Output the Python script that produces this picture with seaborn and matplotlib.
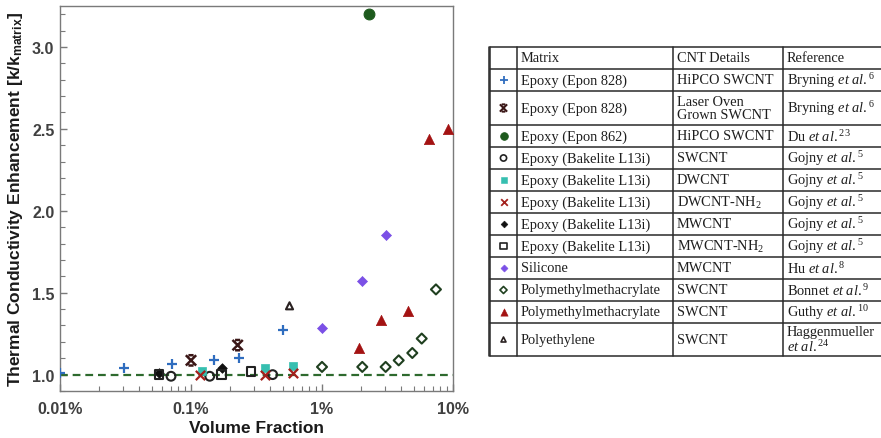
import numpy as np
import pandas as pd
import matplotlib
matplotlib.use("Agg")
import matplotlib.pyplot as plt
from matplotlib.path import Path
from matplotlib.ticker import FixedLocator, FixedFormatter, MultipleLocator, LogLocator, NullFormatter
import seaborn as sns

# ---- data: CNT volume fraction (%) vs. k / k_matrix ----
epon828_hipco_x = [0.01, 0.0306, 0.071, 0.151, 0.232, 0.505]
epon828_hipco_y = [1.01, 1.04, 1.063, 1.087, 1.10, 1.274]
epon828_laser_x = [0.1, 0.227]
epon828_laser_y = [1.087, 1.18]
epon862_hipco_x = [2.30]
epon862_hipco_y = [3.20]
bakelite_sw_x = [0.0704, 0.139, 0.42]
bakelite_sw_y = [0.99, 0.99, 1.0]
bakelite_dw_x = [0.121, 0.368, 0.605]
bakelite_dw_y = [1.02, 1.04, 1.05]
bakelite_dwnh2_x = [0.118, 0.364, 0.605]
bakelite_dwnh2_y = [1.0, 1.0, 1.01]
bakelite_mw_x = [0.057, 0.171]
bakelite_mw_y = [1.01, 1.04]
bakelite_mwnh2_x = [0.057, 0.171, 0.287]
bakelite_mwnh2_y = [1.0, 1.0, 1.02]
silicone_mw_x = [1.0, 2.03, 3.06]
silicone_mw_y = [1.287, 1.571, 1.855]
pmma_bonnet_x = [1.0, 2.03, 3.06, 3.85, 4.89, 5.77, 7.41]
pmma_bonnet_y = [1.047, 1.047, 1.047, 1.087, 1.132, 1.22, 1.52]
pmma_guthy_x = [1.92, 2.84, 4.56, 6.52, 9.19]
pmma_guthy_y = [1.165, 1.333, 1.388, 2.44, 2.50]
pe_x = [0.565]
pe_y = [1.42]

x_ticks = [0.01, 0.1, 1, 10]
x_tick_labels = ["0.01%", "0.1%", "1%", "10%"]

# ---- table contents ----
table_header = ["", "Matrix", "CNT Details", "Reference"]
matrix_col = ["Epoxy (Epon 828)", "Epoxy (Epon 828)", "Epoxy (Epon 862)",
              "Epoxy (Bakelite L13i)", "Epoxy (Bakelite L13i)", "Epoxy (Bakelite L13i)",
              "Epoxy (Bakelite L13i)", "Epoxy (Bakelite L13i)", "Silicone",
              "Polymethylmethacrylate", "Polymethylmethacrylate", "Polyethylene"]
cnt_col = ["HiPCO SWCNT", "Laser Oven\nGrown SWCNT", "HiPCO SWCNT", "SWCNT", "DWCNT",
           r"DWCNT-NH$_2$", "MWCNT", r"MWCNT-NH$_2$", "MWCNT", "SWCNT", "SWCNT", "SWCNT"]
ref_col = [r"Bryning $\mathit{et\ al.}^{6}$", r"Bryning $\mathit{et\ al.}^{6}$",
           r"Du $\mathit{et\ al.}^{23}$", r"Gojny $\mathit{et\ al.}^{5}$",
           r"Gojny $\mathit{et\ al.}^{5}$", r"Gojny $\mathit{et\ al.}^{5}$",
           r"Gojny $\mathit{et\ al.}^{5}$", r"Gojny $\mathit{et\ al.}^{5}$",
           r"Hu $\mathit{et\ al.}^{8}$", r"Bonnet $\mathit{et\ al.}^{9}$",
           r"Guthy $\mathit{et\ al.}^{10}$", "Haggenmueller\n" + r"$\mathit{et\ al.}^{24}$"]

# cross with short serif bars, used for the laser-oven SWCNT series
serif_cross = Path([(-1, 1), (1, -1), (-1, -1), (1, 1),
                    (-0.5, 1), (0.5, 1), (-0.5, -1), (0.5, -1)],
                   [Path.MOVETO, Path.LINETO] * 4)

series = [
    dict(x=epon828_hipco_x, y=epon828_hipco_y, marker="+", color="#2f6dbf", kind="line", s=55, lw=1.6),
    dict(x=epon828_laser_x, y=epon828_laser_y, marker=serif_cross, color="#3a1616", kind="open", s=55, lw=1.8),
    dict(x=epon862_hipco_x, y=epon862_hipco_y, marker="o", color="#1d5a1d", kind="filled", s=60, lw=0.8),
    dict(x=bakelite_sw_x, y=bakelite_sw_y, marker="o", color="#222222", kind="open", s=40, lw=1.5),
    dict(x=bakelite_dw_x, y=bakelite_dw_y, marker="s", color="#36bfb0", kind="filled", s=36, lw=0.5),
    dict(x=bakelite_dwnh2_x, y=bakelite_dwnh2_y, marker="x", color="#a3201c", kind="line", s=45, lw=1.6),
    dict(x=bakelite_mw_x, y=bakelite_mw_y, marker="D", color="#111111", kind="filled", s=24, lw=0.5),
    dict(x=bakelite_mwnh2_x, y=bakelite_mwnh2_y, marker="s", color="#222222", kind="open", s=40, lw=1.5),
    dict(x=silicone_mw_x, y=silicone_mw_y, marker="D", color="#7b50e6", kind="filled", s=26, lw=0.5),
    dict(x=pmma_bonnet_x, y=pmma_bonnet_y, marker="D", color="#1f3f1f", kind="open", s=26, lw=1.5),
    dict(x=pmma_guthy_x, y=pmma_guthy_y, marker="^", color="#a31212", kind="filled", s=55, lw=0.5),
    dict(x=pe_x, y=pe_y, marker="^", color="#2a2222", kind="open", s=26, lw=1.5),
]

sns.set_theme(style="ticks")
plt.rcParams["font.family"] = ["Liberation Sans", "DejaVu Sans"]
plt.rcParams["mathtext.fontset"] = "custom"
plt.rcParams["mathtext.rm"] = "Liberation Serif"
plt.rcParams["mathtext.it"] = "Liberation Serif:italic"
plt.rcParams["mathtext.bf"] = "Liberation Serif:bold"

fig = plt.figure(figsize=(8.81, 4.39), dpi=100)
ax = fig.add_axes([60 / 881, 1 - 392 / 439, 393 / 881, 385 / 439])


def style_kwargs(sr, scale=1.0):
    kw = dict(marker=sr["marker"], s=sr["s"] * scale, linewidth=sr["lw"] * (0.8 if scale < 1 else 1.0))
    if sr["kind"] == "open":
        kw.update(facecolor="none", edgecolor=sr["color"], color=sr["color"])
    elif sr["kind"] == "line":
        kw.update(color=sr["color"])
    else:
        kw.update(color=sr["color"], edgecolor=sr["color"])
    return kw


# reference line at k/k_matrix = 1
ax.axhline(1.0, color="#2e6a2e", lw=1.6, ls=(0, (3.5, 2.2)), zorder=2)

for sr in series:
    df = pd.DataFrame({"vf": sr["x"], "k": sr["y"]})
    sns.scatterplot(data=df, x="vf", y="k", ax=ax, legend=False, zorder=3, **style_kwargs(sr))

ax.set_xscale("log")
ax.set_xlim(0.01, 10)
ax.set_ylim(0.9, 3.25)
ax.xaxis.set_major_locator(FixedLocator(x_ticks))
ax.xaxis.set_major_formatter(FixedFormatter(x_tick_labels))
ax.xaxis.set_minor_locator(LogLocator(base=10, subs=np.arange(2, 10), numticks=20))
ax.xaxis.set_minor_formatter(NullFormatter())
ax.yaxis.set_major_locator(MultipleLocator(0.5))
ax.yaxis.set_minor_locator(MultipleLocator(0.1))

for side in ["top", "right", "left", "bottom"]:
    ax.spines[side].set_visible(True)
    ax.spines[side].set_color("#7a7a7a")
    ax.spines[side].set_linewidth(1.0)

ax.tick_params(axis="both", which="both", direction="in", color="#7a7a7a",
               top=False, right=False, labelsize=11.5, labelcolor="#404040")
ax.tick_params(axis="x", pad=7)
ax.tick_params(axis="y", pad=4)
ax.tick_params(which="major", length=5, width=1.0)
ax.tick_params(which="minor", length=3.5, width=0.8)
for lab in ax.get_xticklabels() + ax.get_yticklabels():
    lab.set_fontweight("bold")

ax.set_xlabel("Volume Fraction", fontsize=12.5, fontweight="bold", color="#1a1a1a", labelpad=3)
ax.set_ylabel(r"Thermal Conductivity Enhancement [k/k$_\mathregular{matrix}$]",
              fontsize=12.5, fontweight="bold", color="#1a1a1a", labelpad=5)

# ---- key table drawn in pixel coordinates ----
tax = fig.add_axes([0, 0, 1, 1], zorder=-1)
tax.set_xlim(0, 881)
tax.set_ylim(439, 0)
tax.axis("off")

col_edges = [490, 517, 673, 783, 905]
row_heights = [22, 22, 34, 22, 22, 22, 22, 22, 22, 22, 22, 22, 33]
row_edges = np.concatenate([[48], 48 + np.cumsum(row_heights)])
line_kw = dict(color="#2a2a2a", lw=1.1)
for yv in row_edges:
    tax.plot([col_edges[0], col_edges[-1]], [yv, yv], **line_kw)
for xv in col_edges[:-1]:
    tax.plot([xv, xv], [row_edges[0], row_edges[-1]], **line_kw)
tax.plot([col_edges[0] - 1.5] * 2, [row_edges[0], row_edges[-1]], **line_kw)

text_kw = dict(family=["Liberation Serif", "DejaVu Serif"], fontsize=10.4, color="#1e1e1e",
               va="center", ha="left", linespacing=0.95)
for j, head in enumerate(table_header):
    if head:
        tax.text(col_edges[j] + 4, (row_edges[0] + row_edges[1]) / 2, head, **text_kw)

for i in range(len(matrix_col)):
    yc = (row_edges[i + 1] + row_edges[i + 2]) / 2
    tax.text(col_edges[1] + 4, yc, matrix_col[i], **text_kw)
    tax.text(col_edges[2] + 4, yc, cnt_col[i], **text_kw)
    tax.text(col_edges[3] + 4, yc, ref_col[i], **text_kw)
    sr = series[i]
    sns.scatterplot(x=[503.5], y=[yc], ax=tax, legend=False, zorder=3, **style_kwargs(sr, 0.5))

tax.set_xlim(0, 881)
tax.set_ylim(439, 0)

fig.savefig("out.png", dpi=100, facecolor="white")
